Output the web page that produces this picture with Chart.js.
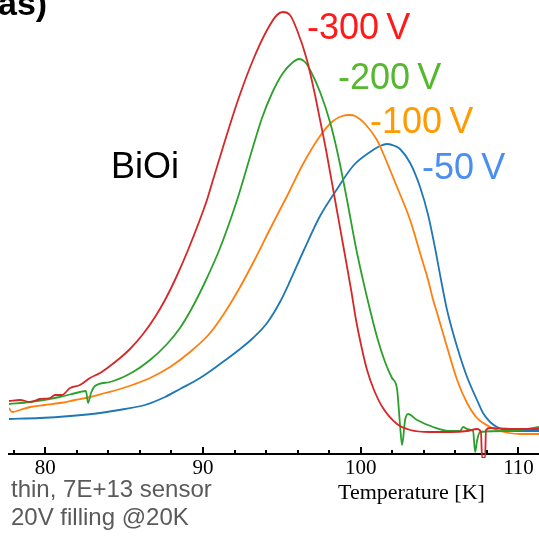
<!DOCTYPE html>
<html>
<head>
<meta charset="utf-8">
<script src="https://cdn.jsdelivr.net/npm/chart.js@4"></script>
<style>
  body { margin: 0; background: #fff; }
  #wrap { width: 539px; height: 536px; }
</style>
</head>
<body>
<div id="wrap"><canvas id="grafica" width="539" height="536"></canvas></div>
<script>
// temperatura [K] y senal (u.a.), una pareja por curva
var tempRed = [77.7,78.4,79.03,79.66,80.3,80.62,81.06,81.57,82.2,82.83,83.47,84.1,84.74,85.37,86.2,86.96,87.59,88.22,89.05,90.25,90.63,91.21,92.22,93.17,94.06,94.69,95.07,95.51,95.96,96.59,97.1,97.42,97.8,98.37,98.94,99.39,99.7,100.02,100.4,100.84,101.41,102.3,103.13,104.39,105.66,106.74,107.37,107.62,107.69,107.88,107.94,108.2,109.46,111.3];
var sigRed  = [5.3,5.4,5.2,5.5,5.6,5.9,5.9,6.6,6.9,7.6,8.1,8.8,9.6,10.5,12.0,13.7,15.4,17.4,20.4,25.4,27.4,30.4,35.4,39.4,42.4,43.9,44.2,43.9,42.4,39.4,35.9,33.4,30.4,25.4,20.4,16.4,13.4,10.9,8.4,6.4,4.6,3.0,2.4,2.2,2.2,2.3,2.5,2.2,-0.4,-0.4,2.4,2.6,2.5,2.5];

var tempGreen = [77.7,79.03,80.93,82.2,82.58,82.71,82.9,83.15,84.1,85.56,86.64,87.72,88.54,89.3,90.13,91.08,92.16,93.11,93.74,94.38,95.07,95.64,96.09,96.47,96.79,97.42,98.05,98.56,99.13,99.7,100.14,100.59,101.03,101.54,101.98,102.3,102.49,102.62,102.81,103.0,103.57,104.59,105.66,106.3,106.49,106.74,107.12,107.25,107.38,107.57,109.46,111.3];
var sigGreen  = [5.0,5.2,5.7,6.2,6.3,5.1,6.1,6.8,7.2,8.2,9.4,11.0,12.6,14.6,17.2,20.6,25.4,30.4,33.6,36.1,38.1,39.1,39.5,39.2,38.4,36.2,33.2,29.9,25.4,20.6,17.4,14.4,11.7,9.2,7.6,6.5,2.9,0.9,3.4,4.0,3.4,2.7,2.3,2.3,2.7,2.5,2.3,0.2,1.4,2.2,2.3,2.7];

var tempOrange = [77.7,77.89,78.4,79.03,79.98,80.93,81.88,82.83,83.79,84.74,85.69,86.64,87.91,89.18,90.45,91.4,92.35,93.3,94.25,95.33,96.34,97.42,98.24,98.82,99.32,99.64,100.28,101.03,101.41,101.86,102.3,103.13,103.76,104.27,104.59,104.84,105.47,106.11,106.74,107.37,108.2,108.83,110.1,111.3];
var sigOrange  = [4.6,4.2,4.4,4.7,4.9,5.1,5.4,5.7,6.1,6.5,7.0,7.6,8.7,10.2,12.1,14.2,16.7,19.5,22.5,25.8,29.0,31.8,33.3,33.8,33.9,33.8,33.0,31.4,30.1,28.4,26.7,23.4,20.1,17.4,15.4,14.1,10.7,7.4,5.1,3.6,2.7,2.3,2.0,2.0];

var tempBlue = [77.7,79.66,81.57,83.47,85.05,86.32,87.59,88.54,89.81,91.08,92.35,93.17,94.06,94.88,95.52,96.34,97.42,98.5,99.51,100.59,101.22,101.67,102.17,102.49,103.13,103.76,104.27,104.71,105.09,105.47,106.11,106.74,107.37,107.75,108.2,108.64,109.46,111.3];
var sigBlue  = [3.5,3.6,3.8,4.1,4.5,4.9,5.7,6.5,7.6,9.0,10.5,11.6,13.1,15.2,17.3,20.2,23.8,26.5,28.8,30.2,30.8,31.0,30.8,30.5,29.1,26.7,23.9,20.6,17.4,14.4,10.7,7.7,5.4,4.1,3.2,2.7,2.3,2.3];

// eje x: marcas cada 2 K, rotulo cada 10 K
var tickValues = [78,80,82,84,86,88,90,92,94,96,98,100,102,104,106,108,110];
var tickLabeled = [80,90,100,110];

function juntar(t, s){
    var pts = [];
    for (var i = 0; i < t.length; i++){
        pts.push({x: t[i], y: s[i]});
    }
    return pts;
}

function serie(label, t, s, color){
    return {
        label: label,
        data: juntar(t, s),
        borderColor: color,
        backgroundColor: 'transparent',
        borderWidth: 1.8,
        pointRadius: 0,
        cubicInterpolationMode: 'monotone',
        clip: {left: 0, top: 0, right: 0, bottom: 4}
    };
}

// marcas del eje hacia dentro y textos sueltos
var extras = {
    id: 'extras',
    afterDraw: function(chart){
        var ctx = chart.ctx;
        var xs = chart.scales.x;
        var base = chart.chartArea.bottom;
        ctx.save();
        ctx.strokeStyle = '#000';
        ctx.lineWidth = 2;
        for (var i = 0; i < tickValues.length; i++){
            var px = Math.round(xs.getPixelForValue(tickValues[i]));
            var len = tickLabeled.indexOf(tickValues[i]) != -1 ? 7 : 4;
            ctx.beginPath();
            ctx.moveTo(px, base);
            ctx.lineTo(px, base - len);
            ctx.stroke();
        }

        ctx.textBaseline = 'alphabetic';
        ctx.textAlign = 'left';

        ctx.fillStyle = '#000';
        ctx.font = 'bold 34px "Liberation Sans", Arial, sans-serif';
        ctx.fillText('as)', -2, 15);

        ctx.font = '36px "Liberation Sans", Arial, sans-serif';
        ctx.fillText('BiOi', 111, 178);

        ctx.fillStyle = '#ff1a1a';
        ctx.fillText('-300\u2009V', 307, 39);
        ctx.fillStyle = '#55b82f';
        ctx.fillText('-200\u2009V', 338, 89);
        ctx.fillStyle = '#ff9a00';
        ctx.fillText('-100\u2009V', 370, 133);
        ctx.fillStyle = '#4a8ef2';
        ctx.fillText('-50\u2009V', 422, 179);

        ctx.fillStyle = '#000';
        ctx.font = '22px "Liberation Serif", "Times New Roman", serif';
        ctx.fillText('Temperature [K]', 338, 499);

        ctx.fillStyle = '#5a5a5a';
        ctx.font = '24px "Liberation Sans", Arial, sans-serif';
        ctx.fillText('thin, 7E+13 sensor', 11, 497);
        ctx.fillText('20V filling @20K', 11, 525);
        ctx.restore();
    }
};

var grafica = new Chart(document.getElementById('grafica'), {
    type: 'line',
    data: {
        datasets: [
            serie('-300V', tempRed, sigRed, '#d62728'),
            serie('-200V', tempGreen, sigGreen, '#2ca02c'),
            serie('-100V', tempOrange, sigOrange, '#ff7f0e'),
            serie('-50V', tempBlue, sigBlue, '#1f77b4')
        ]
    },
    options: {
        responsive: false,
        animation: false,
        layout: {padding: {left: 9, right: 0, top: 0, bottom: 0}},
        plugins: {
            legend: {display: false},
            tooltip: {enabled: false}
        },
        scales: {
            x: {
                type: 'linear',
                min: 77.7,
                max: 111.3,
                afterBuildTicks: function(scale){
                    scale.ticks = tickValues.map(function(v){ return {value: v}; });
                },
                afterFit: function(scale){
                    scale.height = 82;
                },
                grid: {display: false, drawTicks: false},
                border: {display: true, color: '#000', width: 2},
                ticks: {
                    autoSkip: false,
                    maxRotation: 0,
                    padding: 2,
                    color: '#000',
                    font: {family: '"Liberation Serif", "Times New Roman", serif', size: 21},
                    callback: function(v){
                        return tickLabeled.indexOf(v) != -1 ? String(v) : '';
                    }
                }
            },
            y: {
                display: false,
                min: 0,
                max: 45.4
            }
        }
    },
    plugins: [extras]
});
</script>
</body>
</html>
